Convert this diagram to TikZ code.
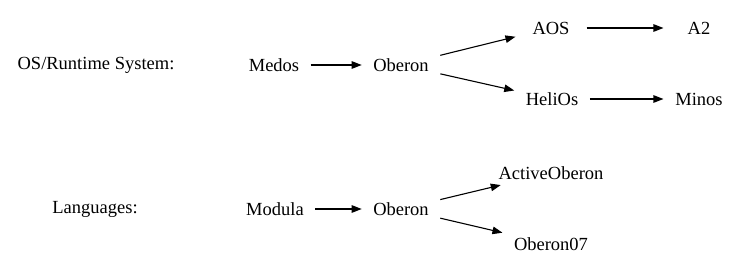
\documentclass[tikz,border=0pt]{standalone}
\usepackage{fontspec}
\setmainfont{Liberation Serif}
\usepackage{tikz}
\usetikzlibrary{arrows.meta,positioning,shapes,calc}

\begin{document}
\begin{tikzpicture}[x=1pt,y=-1pt,->,>={Triangle[length=10pt,width=7.5pt]},
	line width=1.1pt,
	main node/.style={rectangle,inner xsep=11pt,inner ysep=5pt,
		minimum width=70pt,font=\fontsize{18.5}{20}\selectfont},
	row label/.style={font=\fontsize{18.5}{20}\selectfont}]

	\useasboundingbox (0,0) rectangle (741,275);

	% operating systems
	\node[row label] (OSL) at (96,65) {OS/Runtime System:};
	\node[main node] (Me) at (274,65) {Medos};
	\node[main node] (Ob) at (401,65) {Oberon};
	\node[main node] (AOS) at (551,28) {AOS};
	\node[main node] (A2) at (699,28) {A2};
	\node[main node] (He) at (552,99) {HeliOs};
	\node[main node] (Mi) at (699,99) {Minos};

	% languages
	\node[row label] (LL) at (95,209) {Languages:};
	\node[main node] (Mo) at (275,209) {Modula};
	\node[main node] (ObL) at (401,209) {Oberon};
	\node[main node] (AO) at (551,173) {ActiveOberon};
	\node[main node] (O7) at (551,244) {Oberon07};

	\path
	(Me) edge node {} (Ob)
	(Ob) edge node {} (AOS)
	(Ob) edge node {} (He)
	(AOS) edge node {} (A2)
	(He) edge node {} (Mi)
	(Mo) edge node {} (ObL)
	(ObL) edge node {} (AO)
	(ObL) edge node {} (O7);

\end{tikzpicture}
\end{document}
